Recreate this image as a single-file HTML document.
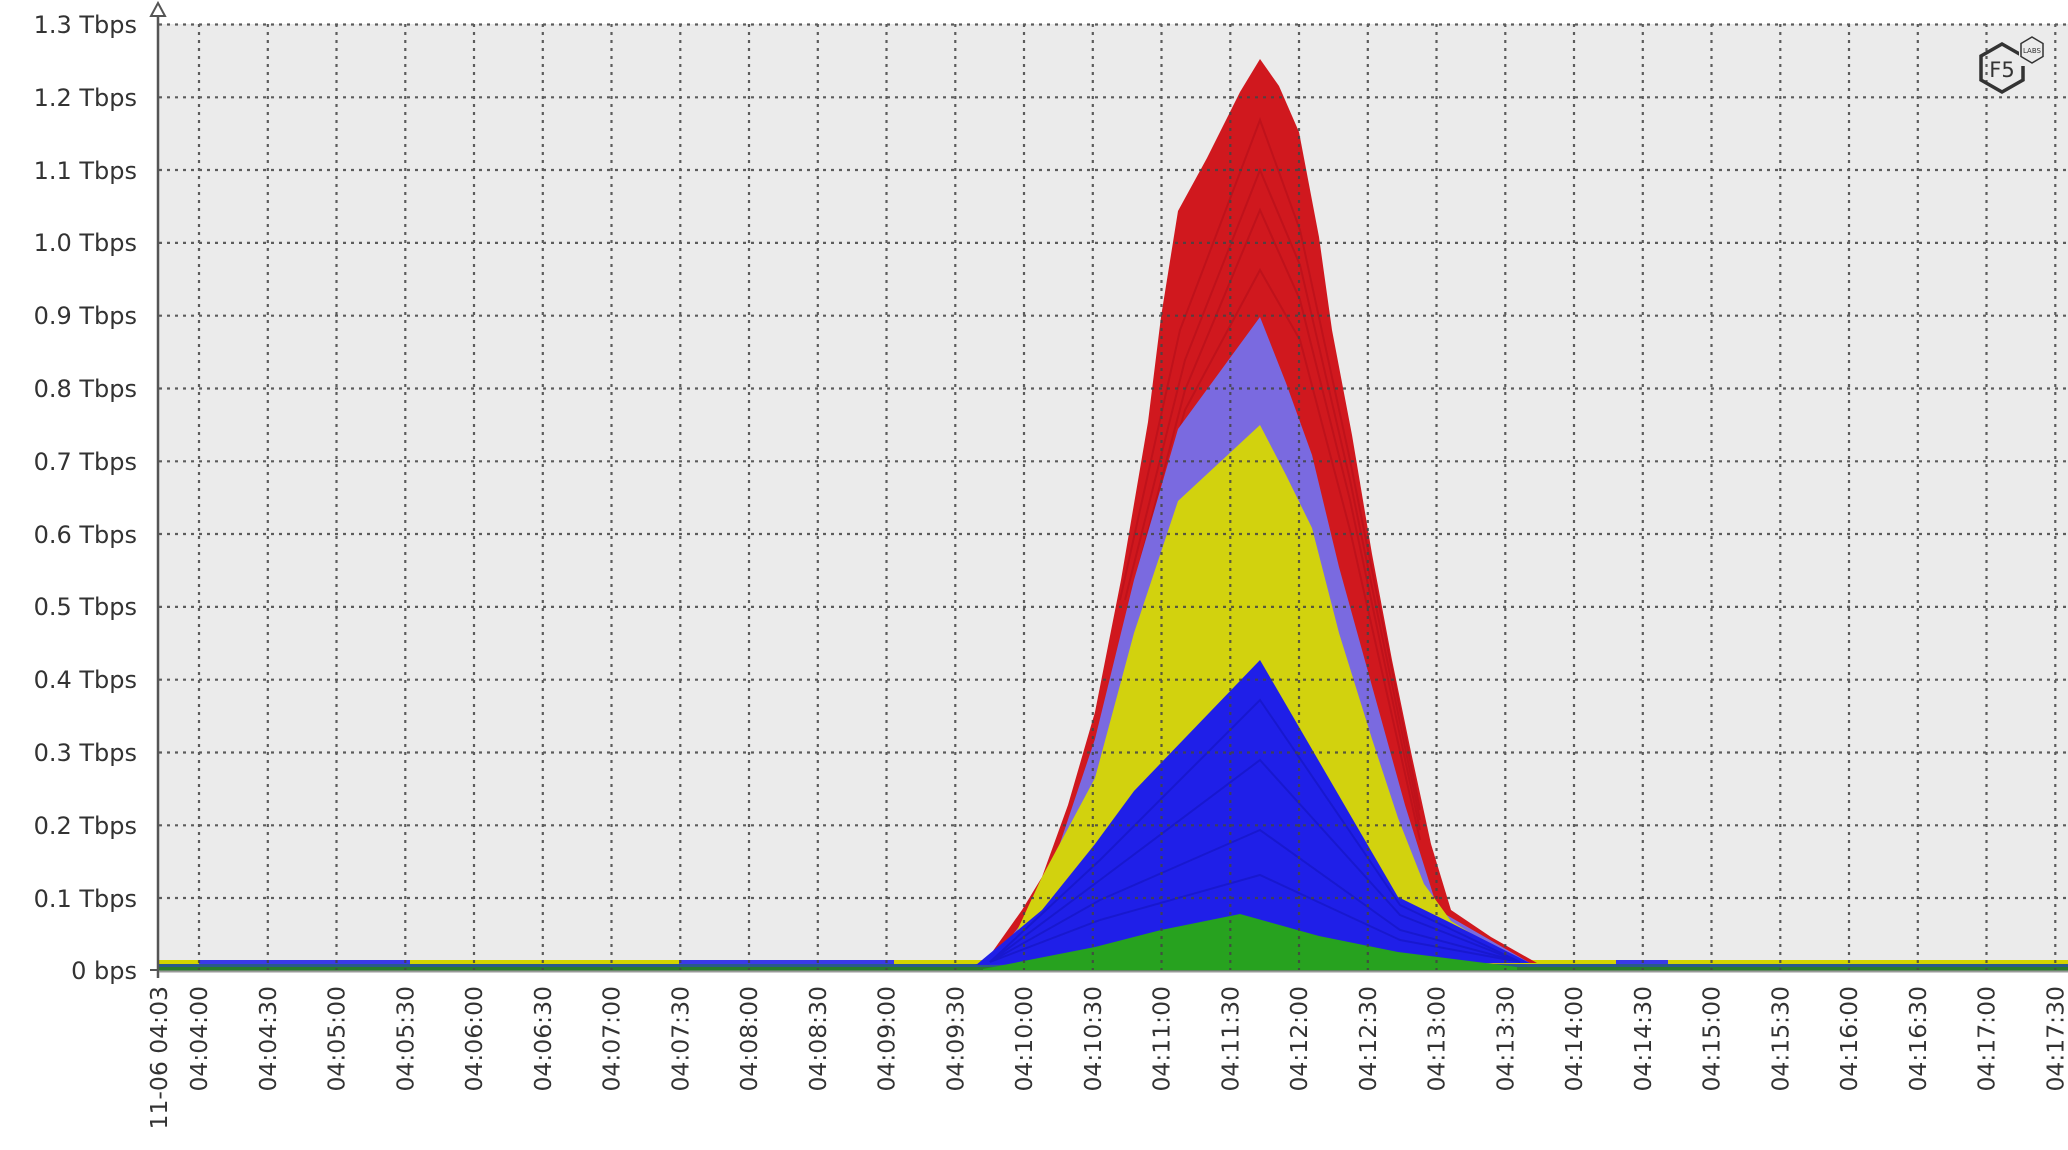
<!DOCTYPE html>
<html><head><meta charset="utf-8"><style>
html,body{margin:0;padding:0;background:#fff;}
svg{display:block;}
text{font-family:"DejaVu Sans","Liberation Sans",sans-serif;fill:#333;}
</style></head><body>
<svg width="2068" height="1150" viewBox="0 0 2068 1150" xmlns="http://www.w3.org/2000/svg">
<rect x="159" y="24" width="1909" height="946" fill="#ebebeb"/>
<!-- baseline strips -->
<rect x="159" y="960" width="1909" height="4" fill="#d4d400"/>
<rect x="199" y="960" width="211" height="4" fill="#3a3ae8"/>
<rect x="679" y="960" width="215" height="4" fill="#3a3ae8"/>
<rect x="1616" y="960" width="52" height="4" fill="#3a3ae8"/>
<rect x="159" y="964" width="1909" height="3" fill="#2a5a8a"/>
<rect x="159" y="967" width="1909" height="4" fill="#2a7a2a"/>
<!-- areas -->
<polygon fill="#d0181e" points="983,965 1022,910 1042,877 1068,805 1095,712 1121,580 1148,422 1161,317 1178,211 1207,158 1240,92 1260,59 1279,86 1299,132 1319,237 1332,330 1352,435 1372,554 1392,660 1411,752 1431,844 1451,910 1491,937 1537,963"/>
<g fill="none" stroke="#b8101a" stroke-width="2" opacity="0.7">
<polyline points="1120,600 1180,330 1260,120 1300,230 1350,460 1420,810"/>
<polyline points="1125,600 1185,360 1260,170 1300,265 1350,480 1420,820"/>
<polyline points="1130,600 1185,390 1260,210 1300,300 1350,500 1420,830"/>
<polyline points="1135,590 1185,410 1260,270 1300,340 1350,530 1420,840"/>
</g>
<polygon fill="#7a6ae0" points="989,965 1042,897 1095,739 1134,580 1178,429 1260,317 1286,383 1312,455 1339,567 1372,686 1405,805 1438,910 1530,963"/>
<polygon fill="#d2d20e" points="1002,963 1042,877 1095,778 1134,633 1178,501 1260,425 1286,475 1312,528 1339,633 1372,739 1398,818 1424,884 1451,921 1490,945 1002,963"/>
<polygon fill="#1f1fe8" points="976,965 1042,910 1095,844 1134,791 1260,660 1398,897 1451,923 1530,963"/>
<g fill="none" stroke="#1515c0" stroke-width="2" opacity="0.6">
<polyline points="990,962 1100,860 1260,700 1400,905 1520,962"/>
<polyline points="990,962 1100,880 1260,760 1400,915 1520,962"/>
<polyline points="990,962 1100,900 1260,830 1400,930 1520,962"/>
<polyline points="990,962 1100,920 1260,875 1400,940 1520,962"/>
</g>
<polygon fill="#27a21f" points="983,969 1095,947 1161,930 1240,914 1319,936 1398,952 1517,967 1517,970 983,970"/>
<!-- grid -->
<g stroke="#444" stroke-width="2.2" stroke-dasharray="3,5" fill="none" opacity="0.85">
<path d="M159 24.5H2068M159 97.3H2068M159 170H2068M159 242.9H2068M159 315.7H2068M159 388.5H2068M159 461.3H2068M159 534H2068M159 606.9H2068M159 679.7H2068M159 752.5H2068M159 825.3H2068M159 898H2068"/>
<path d="M199 24V970M267.8 24V970M336.5 24V970M405.3 24V970M474 24V970M542.8 24V970M611.5 24V970M680.3 24V970M749 24V970M817.8 24V970M886.5 24V970M955.3 24V970M1024 24V970M1092.8 24V970M1161.5 24V970M1230.3 24V970M1299 24V970M1367.8 24V970M1436.5 24V970M1505.3 24V970M1574 24V970M1642.8 24V970M1711.5 24V970M1780.3 24V970M1849 24V970M1917.8 24V970M1986.5 24V970M2055.3 24V970"/>
</g>
<!-- axis -->
<line x1="158" y1="8" x2="158" y2="978" stroke="#555" stroke-width="2.5"/>
<polygon points="151,16 158,3 165,16" fill="#fff" stroke="#555" stroke-width="2"/>
<line x1="150" y1="970" x2="158" y2="970" stroke="#555" stroke-width="2"/>
<line x1="159" y1="971.5" x2="2068" y2="971.5" stroke="#999" stroke-width="2"/>
<!-- y labels -->
<g font-size="24" text-anchor="end">
<text x="137" y="33">1.3 Tbps</text>
<text x="137" y="106">1.2 Tbps</text>
<text x="137" y="179">1.1 Tbps</text>
<text x="137" y="251">1.0 Tbps</text>
<text x="137" y="324">0.9 Tbps</text>
<text x="137" y="397">0.8 Tbps</text>
<text x="137" y="470">0.7 Tbps</text>
<text x="137" y="543">0.6 Tbps</text>
<text x="137" y="615">0.5 Tbps</text>
<text x="137" y="688">0.4 Tbps</text>
<text x="137" y="761">0.3 Tbps</text>
<text x="137" y="834">0.2 Tbps</text>
<text x="137" y="907">0.1 Tbps</text>
<text x="137" y="979">0 bps</text>
</g>
<!-- x labels -->
<g font-size="23.5" text-anchor="end">
<text transform="translate(167,986) rotate(-90)">11-06 04:03</text>
<text transform="translate(207,986) rotate(-90)">04:04:00</text>
<text transform="translate(275.8,986) rotate(-90)">04:04:30</text>
<text transform="translate(344.5,986) rotate(-90)">04:05:00</text>
<text transform="translate(413.3,986) rotate(-90)">04:05:30</text>
<text transform="translate(482,986) rotate(-90)">04:06:00</text>
<text transform="translate(550.8,986) rotate(-90)">04:06:30</text>
<text transform="translate(619.5,986) rotate(-90)">04:07:00</text>
<text transform="translate(688.3,986) rotate(-90)">04:07:30</text>
<text transform="translate(757,986) rotate(-90)">04:08:00</text>
<text transform="translate(825.8,986) rotate(-90)">04:08:30</text>
<text transform="translate(894.5,986) rotate(-90)">04:09:00</text>
<text transform="translate(963.3,986) rotate(-90)">04:09:30</text>
<text transform="translate(1032,986) rotate(-90)">04:10:00</text>
<text transform="translate(1100.8,986) rotate(-90)">04:10:30</text>
<text transform="translate(1169.5,986) rotate(-90)">04:11:00</text>
<text transform="translate(1238.3,986) rotate(-90)">04:11:30</text>
<text transform="translate(1307,986) rotate(-90)">04:12:00</text>
<text transform="translate(1375.8,986) rotate(-90)">04:12:30</text>
<text transform="translate(1444.5,986) rotate(-90)">04:13:00</text>
<text transform="translate(1513.3,986) rotate(-90)">04:13:30</text>
<text transform="translate(1582,986) rotate(-90)">04:14:00</text>
<text transform="translate(1650.8,986) rotate(-90)">04:14:30</text>
<text transform="translate(1719.5,986) rotate(-90)">04:15:00</text>
<text transform="translate(1788.3,986) rotate(-90)">04:15:30</text>
<text transform="translate(1857,986) rotate(-90)">04:16:00</text>
<text transform="translate(1925.8,986) rotate(-90)">04:16:30</text>
<text transform="translate(1994.5,986) rotate(-90)">04:17:00</text>
<text transform="translate(2063.3,986) rotate(-90)">04:17:30</text>
</g>
<!-- F5 logo -->
<polygon points="2002,44 2023,56 2023,80 2002,92 1981,80 1981,56" fill="none" stroke="#333" stroke-width="3.5"/>
<rect x="2019" y="38" width="26" height="28" fill="#ebebeb"/>
<polygon points="2032,37 2043,43.5 2043,56.5 2032,63 2021,56.5 2021,43.5" fill="none" stroke="#333" stroke-width="1.5"/>
<text x="2032" y="53" font-size="7" text-anchor="middle">LABS</text>
<text x="2002" y="77" font-size="21" text-anchor="middle" fill="#333">F5</text>
</svg>
</body></html>
